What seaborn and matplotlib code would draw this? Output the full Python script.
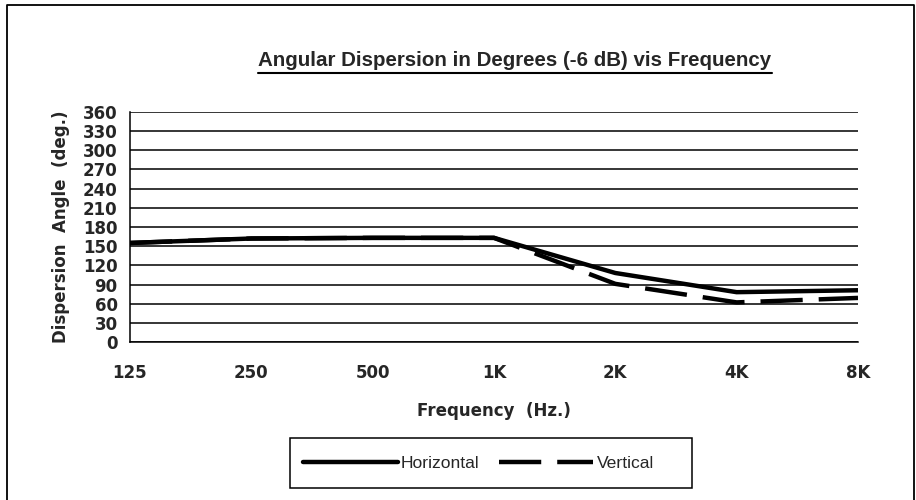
import matplotlib
matplotlib.use("Agg")
import matplotlib.pyplot as plt
import seaborn as sns
import pandas as pd
from matplotlib.patches import Rectangle
from matplotlib.lines import Line2D

# ---- data ----
frequencies = ["125", "250", "500", "1K", "2K", "4K", "8K"]
horizontal = [155, 162, 163, 163, 108, 78, 81]
vertical = [155, 162, 163, 163, 91, 62, 69]
y_ticks = [0, 30, 60, 90, 120, 150, 180, 210, 240, 270, 300, 330, 360]

df = pd.DataFrame({
    "Frequency": frequencies * 2,
    "Angle": horizontal + vertical,
    "Series": ["Horizontal"] * len(frequencies) + ["Vertical"] * len(frequencies),
})

sns.set_theme(style="white")
plt.rcParams['font.family'] = ['Liberation Sans', 'DejaVu Sans']

W, H = 916, 500
fig = plt.figure(figsize=(W / 100, H / 100), dpi=100)
ax = fig.add_axes([130 / W, 1 - 342 / H, (858 - 130) / W, (342 - 112) / H])

LW = 3.2
DASH = (9.5, 3.6)
sns.lineplot(data=df, x="Frequency", y="Angle", hue="Series", style="Series",
             palette={"Horizontal": "black", "Vertical": "black"},
             dashes={"Horizontal": "", "Vertical": DASH},
             linewidth=LW, ax=ax, legend=False, sort=False)

tickfont = dict(family="DejaVu Sans", size=12, weight="bold")
ax.set_xlim(0, len(frequencies) - 1)
ax.set_ylim(0, 360)
ax.set_yticks(y_ticks)
ax.set_yticklabels([str(t) for t in y_ticks], fontdict=tickfont)
ax.set_xticks(range(len(frequencies)))
ax.set_xticklabels(frequencies, fontdict=tickfont)
ax.tick_params(axis="x", which="both", direction="inout", length=5, width=1, color="black", pad=13)
ax.tick_params(axis="y", length=0, pad=9)
ax.yaxis.grid(True, color="black", linewidth=1.1)
ax.xaxis.grid(False)
for s in ["top", "right"]:
    ax.spines[s].set_visible(False)
for s in ["left", "bottom"]:
    ax.spines[s].set_color("black")
    ax.spines[s].set_linewidth(1.1)

ax.set_xlabel("Frequency  (Hz.)", fontdict=tickfont, labelpad=15)
ax.set_ylabel("Dispersion  Angle  (deg.)", fontdict=tickfont, labelpad=9)

title = fig.text(515 / W, 1 - 61 / H, "Angular Dispersion in Degrees (-6 dB) vis Frequency",
                 ha="center", va="center", fontsize=14.8, fontweight="bold",
                 family="Liberation Sans")
fig.canvas.draw()
bb = title.get_window_extent(fig.canvas.get_renderer())
uy = bb.y0 - 2
fig.add_artist(Line2D([bb.x0 / W, bb.x1 / W], [uy / H, uy / H],
                      transform=fig.transFigure, color="black", linewidth=1.5))

# legend (frame drawn separately)
handles = [Line2D([], [], color="black", linewidth=LW, label="Horizontal"),
           Line2D([], [], color="black", linewidth=LW, dashes=DASH, label="Vertical")]
leg = fig.legend(handles=handles, loc="center left", bbox_to_anchor=(303 / W, 1 - 463 / H),
                 ncol=2, frameon=False, fontsize=12.6, handlelength=5.4,
                 handletextpad=0.2, columnspacing=1.1, borderpad=0, borderaxespad=0)
for t in leg.get_texts():
    t.set_family("Liberation Sans")
fig.add_artist(Rectangle((290 / W, 1 - 488 / H), (692 - 290) / W, 50 / H,
                         transform=fig.transFigure, fill=False, edgecolor="black", linewidth=1.1))

# figure border (top, left, right)
fig.add_artist(Line2D([7 / W, 7 / W, 914 / W, 914 / W], [0, 1 - 5 / H, 1 - 5 / H, 0],
                      transform=fig.transFigure, color="black", linewidth=1.3))

fig.savefig("out.png", dpi=100)
